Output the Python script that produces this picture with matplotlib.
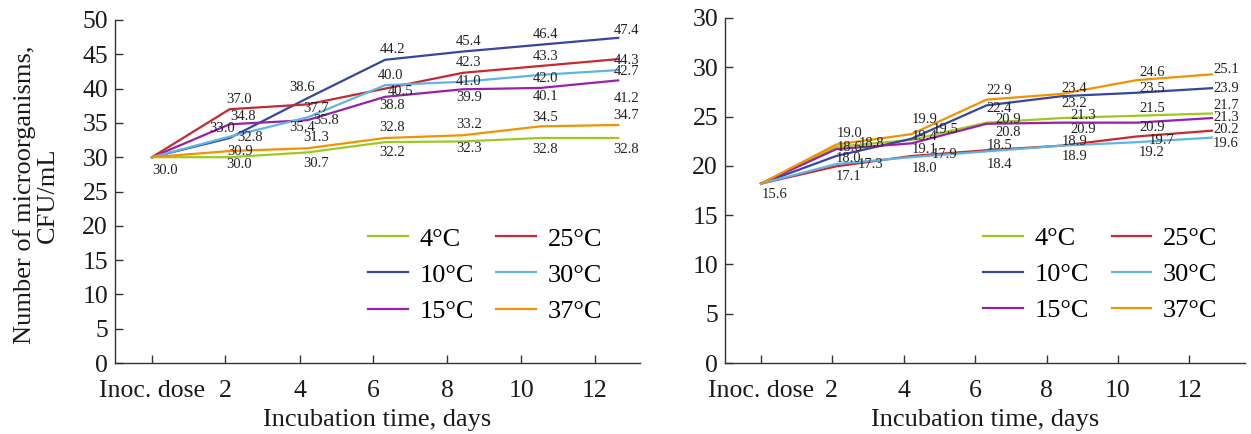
import matplotlib
matplotlib.use("Agg")
import matplotlib.pyplot as plt

plt.rcParams['font.family'] = ['Liberation Serif', 'DejaVu Serif']

x_labels = ["Inoc. dose", "2", "4", "6", "8", "10", "12"]
temps = ["4°C", "10°C", "15°C", "25°C", "30°C", "37°C"]
colors = ["#9dc91e", "#3546a0", "#9a1fa8", "#c9282e", "#5cb5e2", "#f39200"]

# left panel
left_4 = [30.0, 30.0, 30.7, 32.2, 32.3, 32.8, 32.8]
left_10 = [30.0, 32.8, 38.6, 44.2, 45.4, 46.4, 47.4]
left_15 = [30.0, 34.8, 35.4, 38.8, 39.9, 40.1, 41.2]
left_25 = [30.0, 37.0, 37.7, 40.0, 42.3, 43.3, 44.3]
left_30 = [30.0, 33.0, 35.8, 40.5, 41.0, 42.0, 42.7]
left_37 = [30.0, 30.9, 31.3, 32.8, 33.2, 34.5, 34.7]

# right panel
right_4 = [15.6, 18.8, 19.4, 20.9, 21.3, 21.5, 21.7]
right_10 = [15.6, 18.0, 19.5, 22.4, 23.2, 23.5, 23.9]
right_15 = [15.6, 18.6, 19.1, 20.8, 20.9, 20.9, 21.3]
right_25 = [15.6, 17.1, 18.0, 18.5, 18.9, 19.7, 20.2]
right_30 = [15.6, 17.3, 17.9, 18.4, 18.9, 19.2, 19.6]
right_37 = [15.6, 19.0, 19.9, 22.9, 23.4, 24.6, 25.1]

left_yticklabels = ["0", "5", "10", "15", "20", "25", "30", "35", "40", "45", "50"]
right_yticklabels = ["0", "5", "10", "15", "20", "25", "30", "30"]

# label offsets in pixels (dx, dy), points 1..6, same order as temps
left_off = [
    [(9, -7), (9, -11), (7, -10), (6, -7), (5, -12), (8, -12)],
    [(20, 0), (-5, 11), (7, 10), (6, 10), (5, 10), (8, 7)],
    [(13, 8), (-5, -7), (7, -9), (6, -8), (5, -9), (8, -18)],
    [(9, 10), (9, -4), (5, 13), (6, 10), (5, 9), (8, -1)],
    [(-8, 8), (19, -3), (15, -6), (6, 0), (5, -4), (8, -1)],
    [(10, 0), (9, 11), (7, 10), (6, 11), (5, 9), (8, 9)],
]
right_off = [
    [(35, 3), (13, 3), (22, 3), (22, 3), (15, 7), (14, 8)],
    [(12, -3), (34, 9), (13, -3), (13, -7), (15, 4), (14, 0)],
    [(13, 2), (13, -6), (22, -9), (22, -7), (15, -5), (14, 1)],
    [(12, -10), (13, -12), (13, 5), (13, 4), (25, -4), (14, 1)],
    [(34, 0), (33, 3), (13, -13), (13, -11), (15, -10), (14, -6)],
    [(13, 11), (13, 15), (13, 9), (13, 5), (15, 8), (14, 5)],
]

left_series = [left_4, left_10, left_15, left_25, left_30, left_37]
right_series = [right_4, right_10, right_15, right_25, right_30, right_37]
tick_pos = [0, 0.94, 1.9, 2.85, 3.8, 4.75, 5.7]
PX = 72 / 100


def draw(ax, series, offsets, start_off, ylim, yticklabels, xlim):
    x = list(range(len(x_labels)))
    for vals, c, lab, offs in zip(series, colors, temps, offsets):
        ax.plot(x, vals, color=c, lw=1.6, label=lab)
        for i in range(1, len(vals)):
            dx, dy = offs[i - 1]
            ax.annotate(f"{vals[i]:.1f}", (x[i], vals[i]), xytext=(dx * PX, dy * PX),
                        textcoords="offset points", ha="center", va="center",
                        fontsize=10.5, color="#222222")
    ax.annotate(f"{series[0][0]:.1f}", (0, series[0][0]),
                xytext=(start_off[0] * PX, start_off[1] * PX),
                textcoords="offset points", ha="center", va="center",
                fontsize=10.5, color="#222222")
    ax.set_xlim(*xlim)
    ax.set_ylim(*ylim)
    n = len(yticklabels)
    ax.set_yticks([ylim[1] * k / (n - 1) for k in range(n)])
    ax.set_yticklabels(yticklabels)
    ax.set_xticks(tick_pos)
    ax.set_xticklabels(x_labels)
    for s in ["top", "right"]:
        ax.spines[s].set_visible(False)
    for s in ["left", "bottom"]:
        ax.spines[s].set_color("#333333")
        ax.spines[s].set_linewidth(1.0)
    ax.tick_params(axis="both", direction="in", length=6, width=1.0,
                   color="#333333", labelsize=18.5, labelcolor="#1a1a1a")
    ax.tick_params(axis="x", pad=12)
    ax.tick_params(axis="y", pad=5)
    ax.set_xlabel("Incubation time, days", fontsize=19, color="#1a1a1a", labelpad=5)


fig = plt.figure(figsize=(12.51, 4.34), dpi=100)
ax1 = fig.add_axes([115 / 1251, 71 / 434, 525 / 1251, 343 / 434])
ax2 = fig.add_axes([725 / 1251, 71 / 434, 520 / 1251, 345 / 434])

draw(ax1, left_series, left_off, (13, -13), (0, 50), left_yticklabels, (-0.476, 6.28))
draw(ax2, right_series, right_off, (14, -11), (0, 30), right_yticklabels, (-0.48, 6.44))

ax1.set_ylabel("Number of microorganisms,\nCFU/mL", fontsize=19, color="#1a1a1a",
               linespacing=1.05)
ax1.yaxis.set_label_coords(-0.106, 0.49)

for ax, cx in [(ax1, 0.705), (ax2, 0.722)]:
    ax.legend(ncol=2, frameon=False, fontsize=19, loc="center",
              bbox_to_anchor=(cx, 0.2566), handlelength=1.5, handletextpad=0.45,
              columnspacing=0.85, labelspacing=0.48)

fig.savefig("out.png", dpi=100)
